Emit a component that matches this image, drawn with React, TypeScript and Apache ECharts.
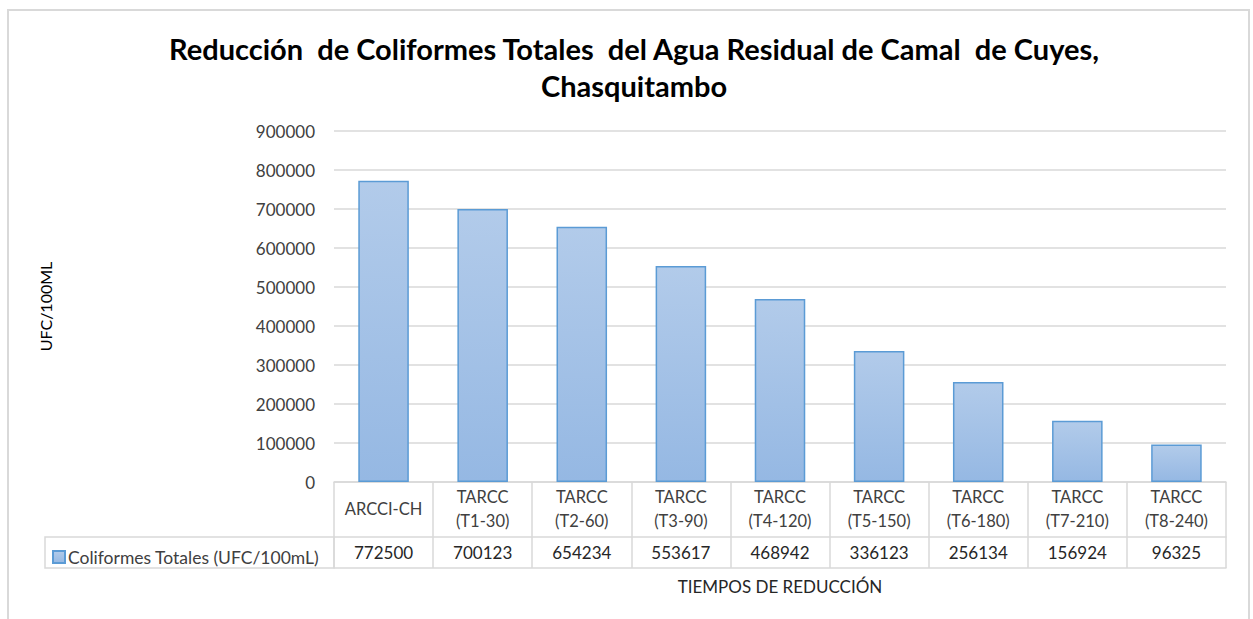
import React, { useEffect, useRef } from "react";
import * as echarts from "echarts";

const categories = [
  "ARCCI-CH",
  "TARCC\n(T1-30)",
  "TARCC\n(T2-60)",
  "TARCC\n(T3-90)",
  "TARCC\n(T4-120)",
  "TARCC\n(T5-150)",
  "TARCC\n(T6-180)",
  "TARCC\n(T7-210)",
  "TARCC\n(T8-240)",
];
const values = [772500, 700123, 654234, 553617, 468942, 336123, 256134, 156924, 96325];
const seriesName = "Coliformes Totales (UFC/100mL)";
const titleText = "Reducción  de Coliformes Totales  del Agua Residual de Camal  de Cuyes,\nChasquitambo";
const yAxisName = "UFC/100ML";
const xAxisName = "TIEMPOS DE REDUCCIÓN";

const FONT = "Lato, 'Open Sans', sans-serif";
const GRID = "#d9d9d9";
const TXT = "#404040";

export default function App() {
  const ref = useRef<HTMLDivElement>(null);
  useEffect(() => {
    if (!ref.current) return;
    const chart = echarts.init(ref.current, undefined, { renderer: "svg" });
    chart.setOption({
      animation: false,
      backgroundColor: "#ffffff",
      textStyle: { fontFamily: FONT },
      title: {
        text: titleText,
        left: 629,
        textAlign: "center",
        top: 25,
        textStyle: { fontFamily: FONT, fontSize: 29, fontWeight: "bold", color: "#000000", lineHeight: 37 },
      },
      legend: {
        data: [seriesName],
        left: 47,
        top: 543,
        icon: "rect",
        itemWidth: 12,
        itemHeight: 12,
        itemGap: 4,
        textStyle: { fontFamily: FONT, fontSize: 17.5, color: TXT, padding: [0, 0, 0, -2] },
      },
      grid: { left: 334, right: 27, top: 131, bottom: 137, containLabel: false },
      xAxis: [
        {
          type: "category",
          data: categories,
          position: "bottom",
          axisLine: { show: true, lineStyle: { color: GRID, width: 1.5 } },
          axisTick: { show: true, length: 86, lineStyle: { color: GRID, width: 1.5 } },
          axisLabel: {
            interval: 0,
            margin: 27,
            verticalAlign: "middle",
            fontFamily: FONT,
            fontSize: 16.5,
            lineHeight: 24,
            color: TXT,
          },
        },
        {
          type: "category",
          data: values.map((v) => String(v)),
          position: "bottom",
          offset: 55,
          axisLine: { show: true, lineStyle: { color: GRID, width: 1.5 } },
          axisTick: { show: false },
          axisLabel: {
            interval: 0,
            margin: 15,
            verticalAlign: "middle",
            fontFamily: FONT,
            fontSize: 17,
            color: "#262626",
          },
        },
        {
          type: "category",
          data: categories,
          position: "bottom",
          offset: 86,
          axisLine: { show: true, lineStyle: { color: GRID, width: 1.5 } },
          axisTick: { show: false },
          axisLabel: { show: false },
          name: xAxisName,
          nameLocation: "middle",
          nameGap: 10,
          nameTextStyle: { fontFamily: FONT, fontSize: 17, color: "#262626", verticalAlign: "top" },
        },
      ],
      yAxis: {
        type: "value",
        min: 0,
        max: 900000,
        interval: 100000,
        name: yAxisName,
        nameLocation: "middle",
        nameGap: 281,
        nameRotate: 90,
        nameTextStyle: { fontFamily: FONT, fontSize: 16, color: "#000000" },
        axisLine: { show: false },
        axisTick: { show: false },
        axisLabel: {
          margin: 19,
          fontFamily: FONT,
          fontSize: 17,
          color: TXT,
          formatter: (v: number) => String(v),
        },
        splitLine: { show: true, lineStyle: { color: GRID, width: 1.5 } },
      },
      graphic: [
        {
          type: "rect",
          shape: { x: 8, y: 10, width: 1241, height: 700 },
          style: { fill: "none", stroke: GRID, lineWidth: 2 },
          silent: true,
          z: -1,
        },
        {
          type: "rect",
          shape: { x: 45, y: 537, width: 289, height: 31 },
          style: { fill: "none", stroke: GRID, lineWidth: 1.5 },
          silent: true,
        },
      ],
      series: [
        {
          name: seriesName,
          type: "bar",
          xAxisIndex: 0,
          data: values,
          barWidth: "51%",
          itemStyle: {
            color: new echarts.graphic.LinearGradient(0, 0, 0, 1, [
              { offset: 0, color: "#b2cbea" },
              { offset: 1, color: "#95b8e3" },
            ]),
            borderColor: "#5b9bd5",
            borderWidth: 1.5,
          },
        },
      ],
    });
    return () => chart.dispose();
  }, []);
  return (
    <div
      ref={ref}
      style={{ position: "absolute", left: 0, top: 0, width: 1253, height: 619, background: "#fff" }}
    />
  );
}
